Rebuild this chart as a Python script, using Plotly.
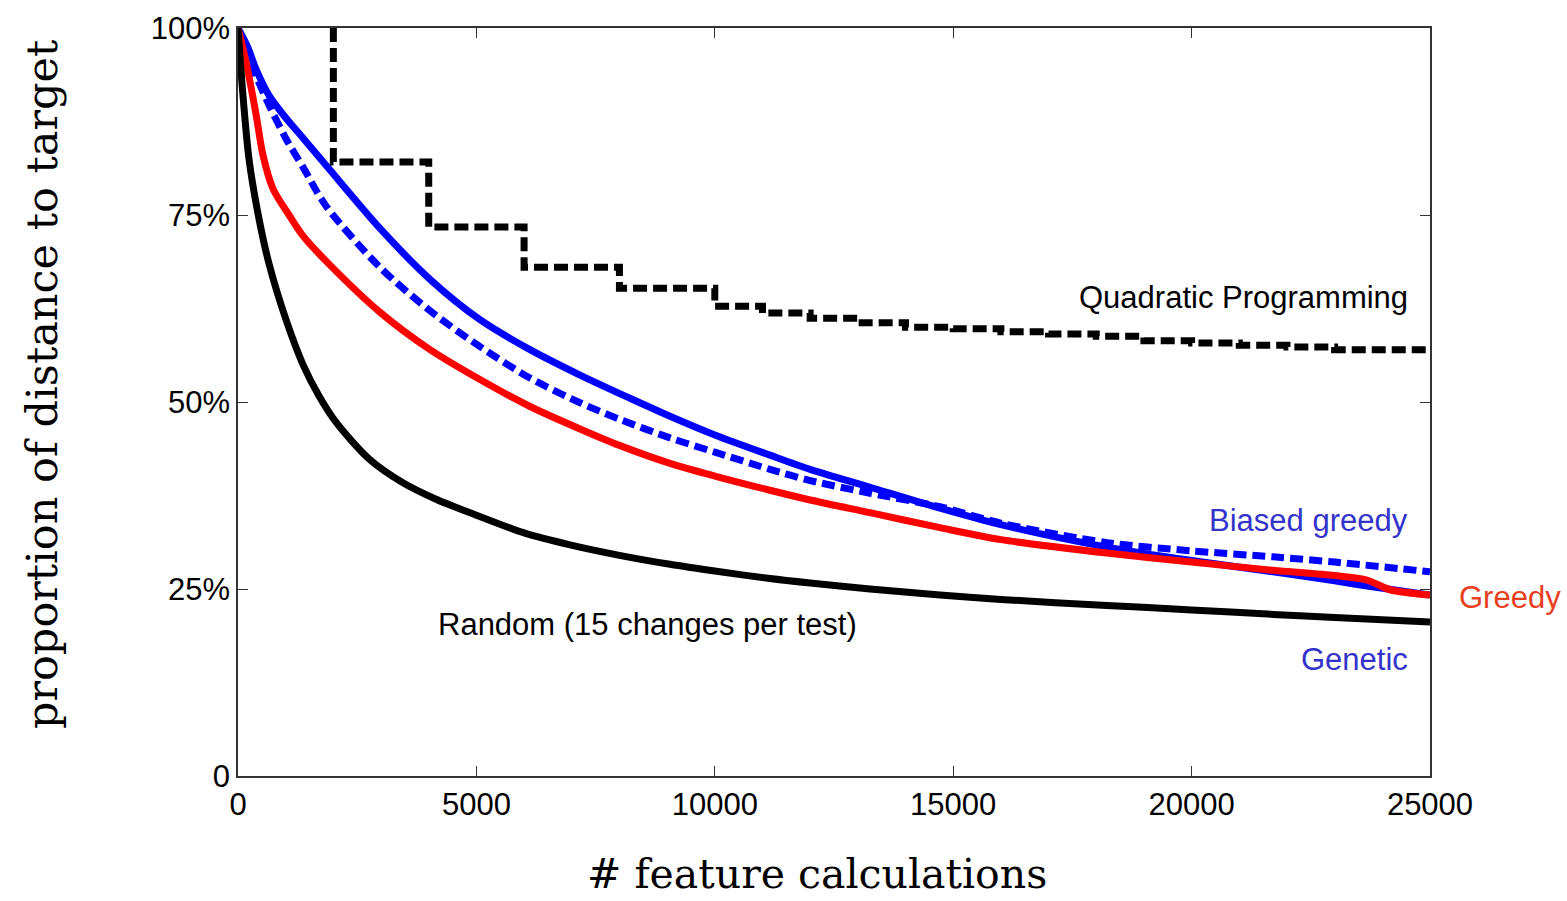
import plotly.graph_objects as go

# ---------------- data ----------------
genetic_x = [0, 200, 377, 650, 1000, 1363, 1930, 2978, 4027, 5075, 6124, 7173, 8221, 9060, 10000,
             11157, 12000, 13255, 14723, 16000, 18226, 20000, 21710, 23000, 23680, 25000]
genetic_y = [100, 97.5, 94.5, 91.0, 88.0, 85.3, 81.0, 73.2, 66.4, 61.0, 57.0, 53.6, 50.5, 48.1, 45.6,
             42.9, 41.0, 38.6, 35.8, 33.6, 30.6, 28.8, 27.3, 26.1, 25.4, 24.2]

biased_x = [0, 150, 377, 650, 1007, 1363, 1846, 2978, 4027, 5075, 6124, 7173, 8000, 9060,
            10000, 11157, 12000, 13255, 14723, 16000, 18226, 20000, 21710, 23000, 25000]
biased_y = [100, 97, 93.6, 89.7, 85.2, 81.4, 76.2, 68.0, 62.2, 57.4, 53.2, 49.9, 47.7, 45.2,
            43.3, 41.0, 39.5, 37.8, 36.0, 33.8, 31.2, 30.1, 29.3, 28.6, 27.3]

greedy_x = [0, 167, 377, 524, 734, 1070, 1363, 1930, 2978, 4027, 5075, 6124, 7173, 8000, 9060,
            10000, 11157, 12000, 13255, 14723, 16000, 18226, 20000, 21710, 23000, 23680, 24160, 25000]
greedy_y = [100, 95.5, 88.5, 83.0, 78.5, 75.0, 72.2, 68.3, 62.0, 57.0, 53.0, 49.4, 46.4, 44.2, 41.8,
            40.1, 38.2, 36.9, 35.2, 33.2, 31.6, 29.8, 28.6, 27.5, 26.8, 26.2, 24.9, 24.2]

random_x = [0, 100, 230, 440, 650, 1007, 1363, 1700, 2055, 2747, 3460, 4153, 4866, 6000, 6963, 8000,
            9060, 10000, 11157, 12000, 13255, 14723, 16000, 18226, 20000, 21710, 23000, 25000]
random_y = [100, 91.3, 82.5, 74.5, 68.5, 61.0, 55.0, 50.8, 47.3, 42.4, 39.2, 37.0, 35.2, 32.5, 30.9, 29.5,
            28.3, 27.4, 26.4, 25.8, 25.0, 24.2, 23.6, 22.8, 22.2, 21.6, 21.2, 20.6]

qp_x = [2000, 2000, 4000, 6000, 8000, 10000, 11000, 12000, 13000, 14000, 15000, 16000, 17000,
        18000, 19000, 20000, 21000, 22000, 23000, 24000, 25000]
qp_y = [100, 82.1, 73.4, 68.0, 65.2, 62.8, 61.9, 61.2, 60.6, 60.0, 59.8, 59.4, 59.1,
        58.8, 58.2, 57.9, 57.6, 57.35, 57.0, 57.0, 56.95]

x_tickvals = [0, 5000, 10000, 15000, 20000, 25000]
x_ticktext = ["0", "5000", "10000", "15000", "20000", "25000"]
y_tickvals = [0, 25, 50, 75, 100]
y_ticktext = ["0", "25%", "50%", "75%", "100%"]

labels = [
    # text, xref, x, y, anchor, color
    ("Quadratic Programming", "x", 24580, 64.0, "right", "#000000"),
    ("Biased greedy", "x", 24580, 34.2, "right", "#3333cc"),
    ("Greedy", "paper", 1.0227, 23.8, "left", "#e8401e"),
    ("Genetic", "x", 24580, 15.6, "right", "#3333cc"),
    ("Random (15 changes per test)", "x", 4153, 20.2, "left", "#000000"),
]

BLUE = "#0000ff"
RED = "#ff0000"
BLACK = "#000000"
LW = 7

fig = go.Figure()
fig.add_trace(go.Scatter(x=genetic_x, y=genetic_y, mode="lines", name="Genetic",
                         line=dict(color=BLUE, width=LW, shape="spline", smoothing=0.8)))
fig.add_trace(go.Scatter(x=biased_x, y=biased_y, mode="lines", name="Biased greedy",
                         line=dict(color=BLUE, width=LW, dash="13px,6px", shape="spline", smoothing=0.8)))
fig.add_trace(go.Scatter(x=greedy_x, y=greedy_y, mode="lines", name="Greedy",
                         line=dict(color=RED, width=LW, shape="spline", smoothing=0.8)))
fig.add_trace(go.Scatter(x=random_x, y=random_y, mode="lines", name="Random",
                         line=dict(color=BLACK, width=LW, shape="spline", smoothing=0.8)))
fig.add_trace(go.Scatter(x=qp_x, y=qp_y, mode="lines", name="Quadratic Programming",
                         line=dict(color=BLACK, width=LW, dash="14px,6px", shape="hv")))

for text, xref, x, y, anchor, color in labels:
    fig.add_annotation(x=x, y=y, xref=xref, yref="y", text=text, showarrow=False,
                       xanchor=anchor, yanchor="middle",
                       font=dict(family="Liberation Sans, Arial", size=31, color=color))

# axis titles
fig.add_annotation(x=0.486, y=-0.131, xref="paper", yref="paper", text="# feature calculations",
                   showarrow=False, xanchor="center", yanchor="middle",
                   font=dict(family="DejaVu Serif", size=41, color="#000"))
fig.add_annotation(x=-0.165, y=0.523, xref="paper", yref="paper",
                   text="proportion of distance to target", textangle=-90,
                   showarrow=False, xanchor="center", yanchor="middle",
                   font=dict(family="DejaVu Serif", size=43, color="#000"))

axis_common = dict(showgrid=False, zeroline=False, showline=True, mirror="ticks",
                   linecolor="#333333", linewidth=1.5, ticks="inside", ticklen=10,
                   tickwidth=1.2, tickcolor="#333333",
                   tickfont=dict(family="Liberation Sans, Arial", size=31, color="#000"))

fig.update_xaxes(range=[0, 25000], tickvals=x_tickvals, ticktext=x_ticktext, **axis_common)
fig.update_yaxes(range=[0, 100], tickvals=y_tickvals, ticktext=y_ticktext, **axis_common)

fig.update_layout(width=1567, height=901, margin=dict(l=238, r=137, t=28, b=125),
                  plot_bgcolor="white", paper_bgcolor="white", showlegend=False)

fig.write_html("out.html")
